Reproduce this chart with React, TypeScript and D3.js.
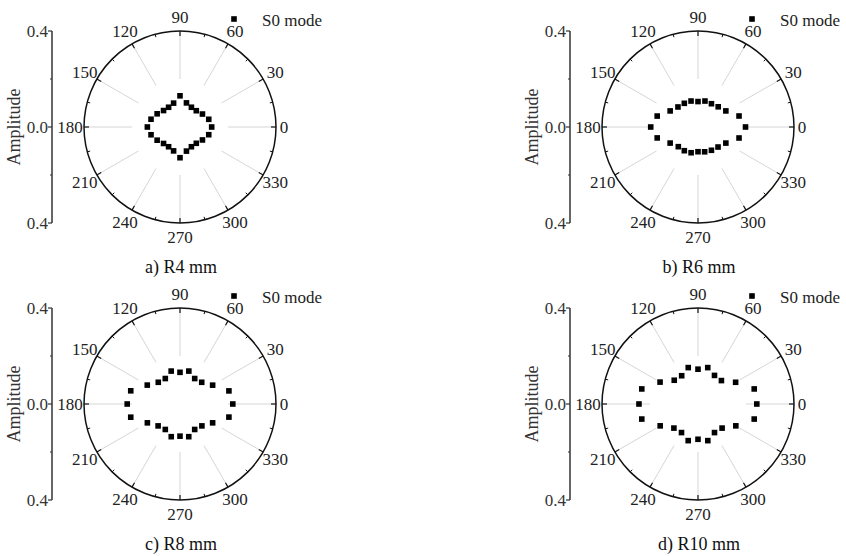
import React from "react";
import * as d3 from "d3";

const WIDTH = 846;
const HEIGHT = 556;
const R = 96;
const FONT = "Liberation Serif, Times New Roman, DejaVu Serif, serif";

// polar angles (deg) of the measured points
const ANGLES = [0, 15, 30, 45, 60, 75, 90, 105, 120, 135, 150, 165, 180, 195, 210, 225, 240, 255, 270, 285, 300, 315, 330, 345];

const AMP_R4 = [0.132, 0.124, 0.108, 0.096, 0.095, 0.104, 0.13, 0.103, 0.095, 0.097, 0.11, 0.125, 0.136, 0.125, 0.11, 0.097, 0.095, 0.103, 0.128, 0.104, 0.095, 0.096, 0.108, 0.124];
const AMP_R6 = [0.198, 0.177, 0.134, 0.119, 0.112, 0.112, 0.106, 0.112, 0.114, 0.118, 0.134, 0.176, 0.197, 0.176, 0.134, 0.116, 0.114, 0.111, 0.103, 0.107, 0.112, 0.118, 0.134, 0.177];
const AMP_R8 = [0.22, 0.211, 0.157, 0.128, 0.1225, 0.142, 0.132, 0.142, 0.1225, 0.128, 0.1575, 0.2125, 0.22, 0.2125, 0.157, 0.129, 0.1225, 0.141, 0.134, 0.141, 0.1225, 0.129, 0.157, 0.211];
const AMP_R10 = [0.245, 0.2425, 0.181, 0.138, 0.1375, 0.157, 0.145, 0.157, 0.136, 0.14, 0.1825, 0.2425, 0.246, 0.2425, 0.182, 0.142, 0.1375, 0.158, 0.147, 0.158, 0.1375, 0.142, 0.182, 0.2425];

const CAPTIONS = ["a) R4 mm", "b) R6 mm", "c) R8 mm", "d) R10 mm"];
const ANGLE_TICKS = [0, 30, 60, 90, 120, 150, 180, 210, 240, 270, 300, 330];
const MINOR_ANGLES = [15, 45, 75, 105, 135, 165, 195, 225, 255, 285, 315, 345];
const AMP_TICKS = [0.4, 0, -0.4];
const AMP_MINOR = [0.2, -0.2];
const LEGEND = "S0 mode";
const AXIS_TITLE = "Amplitude";

const PANELS = [
  { cx: 180, cy: 127, data: AMP_R4, caption: CAPTIONS[0] },
  { cx: 698, cy: 127, data: AMP_R6, caption: CAPTIONS[1] },
  { cx: 180, cy: 404, data: AMP_R8, caption: CAPTIONS[2] },
  { cx: 698, cy: 404, data: AMP_R10, caption: CAPTIONS[3] }
];

const rScale = d3.scaleLinear().domain([0, 0.4]).range([0, R]);
const rad = (deg: number) => (deg * Math.PI) / 180;

function PolarPanel({ cx, cy, data, caption }: any) {
  const yScale = d3.scaleLinear().domain([0.4, -0.4]).range([cy - R, cy + R]);
  const axisX = cx - 128;
  const pt = (deg: number, r: number) => [cx + r * Math.cos(rad(deg)), cy - r * Math.sin(rad(deg))];

  return (
    <g fontFamily={FONT}>
      {/* radial grid */}
      {ANGLE_TICKS.map(a => {
        const [x1, y1] = pt(a, rScale(0.2));
        const [x2, y2] = pt(a, rScale(0.4));
        return <line key={"g" + a} x1={x1} y1={y1} x2={x2} y2={y2} stroke="#d6d6d6" strokeWidth={1} />;
      })}
      <circle cx={cx} cy={cy} r={R} fill="none" stroke="#111" strokeWidth={1.5} />
      {ANGLE_TICKS.map(a => {
        const [x1, y1] = pt(a, R);
        const [x2, y2] = pt(a, R - 5);
        return <line key={"t" + a} x1={x1} y1={y1} x2={x2} y2={y2} stroke="#111" strokeWidth={1.2} />;
      })}
      {MINOR_ANGLES.map(a => {
        const [x1, y1] = pt(a, R);
        const [x2, y2] = pt(a, R - 3);
        return <line key={"m" + a} x1={x1} y1={y1} x2={x2} y2={y2} stroke="#111" strokeWidth={1} />;
      })}
      {ANGLE_TICKS.map(a => {
        const d = String(a).length === 1 ? R + 8 : R + 14;
        const [x, y] = pt(a, d);
        return (
          <text key={"l" + a} x={x} y={y} textAnchor="middle" dominantBaseline="central" fontSize={17} fill="#222">
            {a}
          </text>
        );
      })}

      {/* data */}
      {data.map((v: number, i: number) => {
        const [x, y] = pt(ANGLES[i], rScale(v));
        return <rect key={"d" + i} x={x - 2.8} y={y - 2.8} width={5.6} height={5.6} fill="#000" />;
      })}

      {/* amplitude axis */}
      <line x1={axisX} y1={yScale(0.4)} x2={axisX} y2={yScale(-0.4)} stroke="#333" strokeWidth={1.5} />
      {AMP_TICKS.map(t => (
        <g key={"a" + t}>
          <line x1={axisX - 4} y1={yScale(t)} x2={axisX} y2={yScale(t)} stroke="#333" strokeWidth={1.2} />
          <text x={axisX - 4} y={yScale(t)} textAnchor="end" dominantBaseline="central" fontSize={17} fill="#333">
            {d3.format(".1f")(Math.abs(t))}
          </text>
        </g>
      ))}
      {AMP_MINOR.map(t => (
        <line key={"am" + t} x1={axisX - 2} y1={yScale(t)} x2={axisX} y2={yScale(t)} stroke="#333" strokeWidth={1} />
      ))}
      <text
        transform={`translate(${axisX - 38},${cy}) rotate(-90)`}
        textAnchor="middle"
        dominantBaseline="central"
        fontSize={18}
        fill="#333"
      >
        {AXIS_TITLE}
      </text>

      {/* legend */}
      <rect x={cx + 54 - 2.8} y={cy - 108 - 2.8} width={5.6} height={5.6} fill="#000" />
      <text x={cx + 82} y={cy - 107} dominantBaseline="central" fontSize={17} fill="#222">
        {LEGEND}
      </text>

      <text x={cx + 1} y={cy + 146} textAnchor="middle" fontSize={18} fill="#111">
        {caption}
      </text>
    </g>
  );
}

export default function App() {
  return (
    <svg width={WIDTH} height={HEIGHT} style={{ position: "absolute", left: 0, top: 0, background: "#fff" }}>
      <rect width={WIDTH} height={HEIGHT} fill="#fff" />
      {PANELS.map((p, i) => (
        <PolarPanel key={i} {...p} />
      ))}
    </svg>
  );
}
